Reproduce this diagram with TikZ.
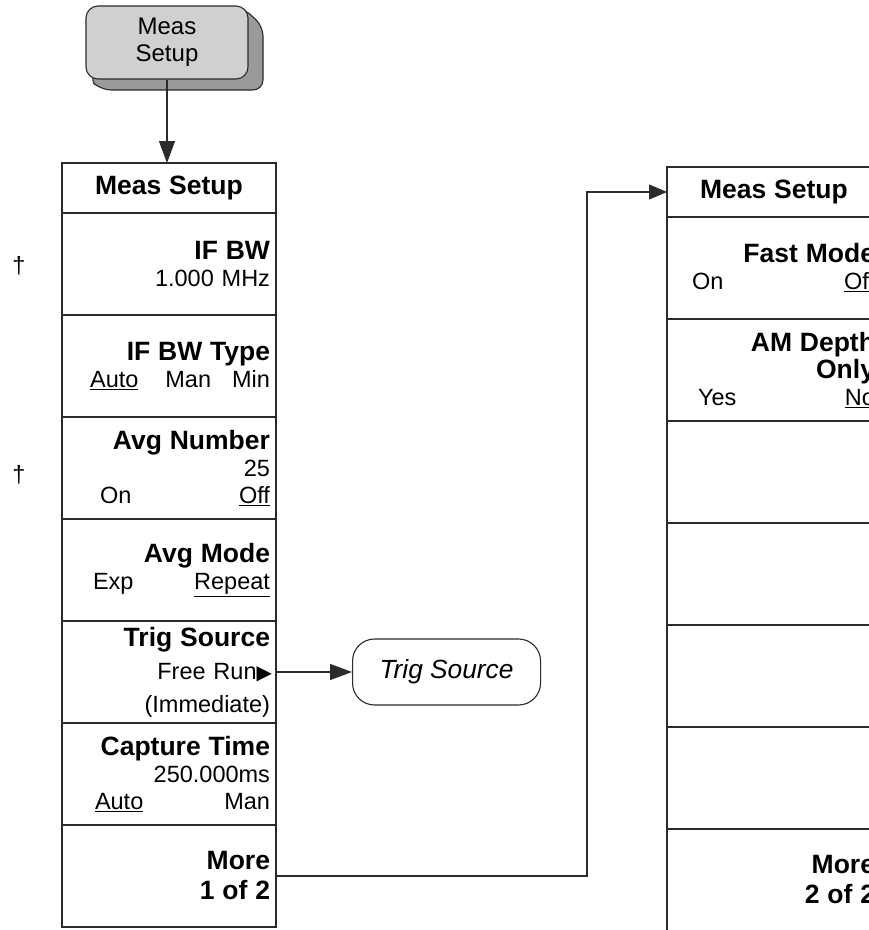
\documentclass[tikz,border=0pt]{standalone}
\usepackage{fontspec}
\setmainfont{Liberation Sans}
\newfontfamily\symfont{DejaVu Sans}
\usetikzlibrary{arrows.meta,positioning}
\definecolor{keyface}{HTML}{D0D0D0}
\definecolor{keyshade}{HTML}{9A9A9A}
\definecolor{edge}{HTML}{2B2B2B}
\newcommand{\kt}[1]{{\fontsize{26.5pt}{27pt}\selectfont\bfseries #1}}
\newcommand{\pair}[3]{\makebox[#1]{#2\hfill#3}}
\tikzset{
  menukey/.style={draw=edge,line width=1.2pt,minimum height=102pt,text width=202pt,
    inner xsep=6pt,inner ysep=0pt,outer sep=0pt,align=right,
    font=\fontsize{23.5pt}{27pt}\selectfont},
  menutitle/.style={menukey,minimum height=50pt,align=center},
  hardkey/.style={draw=edge,fill=keyface,rounded corners=12pt,line width=1.1pt,
    minimum width=162pt,minimum height=73pt,align=center,
    font=\fontsize{24pt}{27pt}\selectfont},
  submenu/.style={draw=edge,rounded corners=22pt,line width=1.1pt,
    minimum width=188pt,minimum height=66pt,
    font=\fontsize{26.3pt}{28pt}\selectfont\itshape},
  dagnote/.style={inner sep=0pt,font=\fontsize{23.5pt}{27pt}\selectfont},
  arrow/.style={-{Triangle[length=22pt,width=16pt]},draw=edge,line width=1.1pt}
}
\begin{document}
\begin{tikzpicture}[x=1pt,y=-1pt,node distance=0pt]
  \fill[white] (0,0) rectangle (869,930);
  \useasboundingbox (0,0) rectangle (869,930);
  \clip (0,0) rectangle (869,930);
  % hard key and its raised edge
  \fill[keyshade,draw=edge,line width=1.1pt,rounded corners=10pt]
    (242,7) -- (263,26) -- (263,90) -- (101,90) -- (88,78) -- cycle;
  \node[hardkey] (hk) at (167,42.5) {Meas\\Setup};
  % menu page 1
  \node[menutitle] (ms1) at (169,188) {\kt{Meas Setup}};
  \node[menukey,below=of ms1] (ifbw) {\kt{IF BW}\\1.000 MHz};
  \node[menukey,below=of ifbw] (ifbwtype) {\kt{IF BW Type}\\\underline{Auto}\hspace{27pt}Man\hspace{21pt}Min};
  \node[menukey,below=of ifbwtype] (avgnum) {\kt{Avg Number}\\25\\\pair{170pt}{On}{\underline{Off}}};
  \node[menukey,below=of avgnum] (avgmode) {\kt{Avg Mode}\\\pair{177pt}{Exp}{\underline{Repeat}}};
  \node[menukey,below=of avgmode,font=\fontsize{23.5pt}{33pt}\selectfont] (trig)
    {\kt{Trig Source}\\Free Run{\symfont\fontsize{20pt}{20pt}\selectfont ▶}\kern-2pt\\(Immediate)};
  \node[menukey,below=of trig] (capt) {\kt{Capture Time}\\250.000ms\\\pair{175pt}{\underline{Auto}}{Man}};
  \node[menukey,below=of capt,font=\fontsize{23.5pt}{30pt}\selectfont] (more1) {\kt{More}\\\kt{1 of 2}};
  \node[dagnote] (dag1) at (19,266) {†};
  \node[dagnote] (dag2) at (19,475) {†};
  \node[submenu,right=76pt of trig] (trigmenu) {Trig Source};
  % menu page 2
  \node[menutitle] (ms2) at (774,192) {\kt{Meas Setup}};
  \node[menukey,below=of ms2] (fast) {\kt{Fast Mode}\\\pair{183pt}{On}{\underline{Off}}};
  \node[menukey,below=of fast] (amdepth) {\kt{AM Depth}\\\kt{Only}\\\pair{177pt}{Yes}{\underline{No}}};
  \node[menukey,below=of amdepth] (blank1) {};
  \node[menukey,below=of blank1] (blank2) {};
  \node[menukey,below=of blank2] (blank3) {};
  \node[menukey,below=of blank3] (blank4) {};
  \node[menukey,below=of blank4,font=\fontsize{23.5pt}{30pt}\selectfont] (more2) {\kt{More}\\\kt{2 of 2}};
  % connectors
  \draw[arrow] (hk.south) -- (hk.south |- ms1.north);
  \draw[arrow] (trig) -- (trigmenu);
  \draw[arrow,-{Triangle[length=18pt,width=15pt]}] (more1.east) -- ++(311,0) |- (ms2.west);
\end{tikzpicture}
\end{document}
